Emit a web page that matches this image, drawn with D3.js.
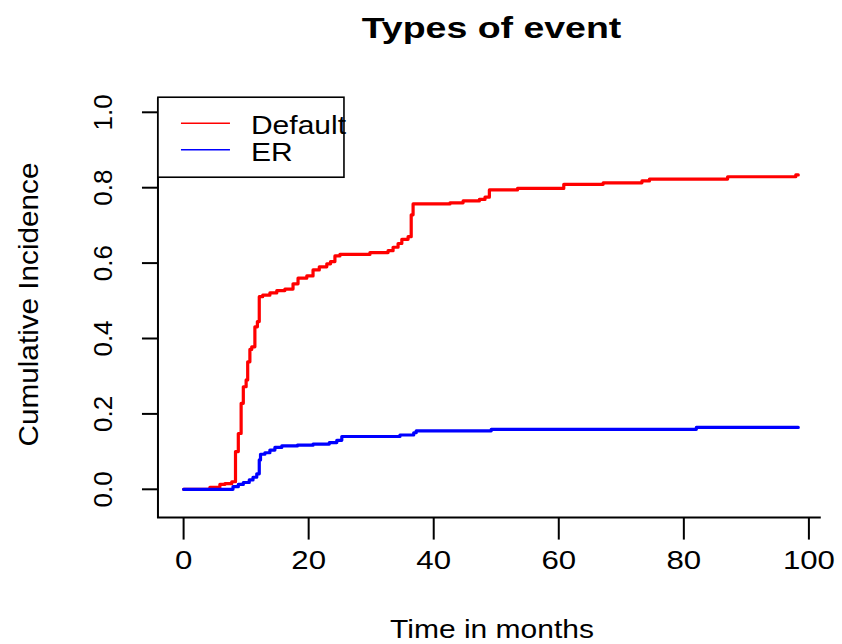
<!DOCTYPE html>
<html>
<head>
<meta charset="utf-8">
<script src="https://cdn.jsdelivr.net/npm/d3@7"></script>
<style>
  body { margin: 0; background: #fff; }
  svg text { font-family: "Liberation Sans", Arial, sans-serif; fill: #000; }
</style>
</head>
<body>
<svg id="chart" width="842" height="644"></svg>
<script>
// cumulative incidence (step points: time, value)
const defaultTimes = [0, 4.2, 5.8, 6.6, 7.7, 8.3, 8.75, 9.2, 9.55, 10.0, 10.25, 10.6, 10.9, 11.4, 11.8, 12.1,
  12.65, 13.8, 14.9, 16.2, 17.5, 18.3, 19.7, 20.7, 21.7, 22.9, 23.5, 24.2, 25.0, 29.8, 32.7, 33.5, 34.3,
  34.9, 35.9, 36.4, 36.7, 42.6, 44.7, 47.3, 48.2, 48.9, 53.4, 60.8, 67.1, 73.3, 74.5, 87.0, 97.9, 98.3];
const defaultValues = [0, 0.005, 0.013, 0.015, 0.02, 0.10, 0.148, 0.228, 0.272, 0.29, 0.338, 0.371, 0.378, 0.431, 0.445, 0.511,
  0.515, 0.521, 0.527, 0.531, 0.545, 0.560, 0.566, 0.582, 0.590, 0.598, 0.604, 0.619, 0.623, 0.628, 0.633, 0.642, 0.652,
  0.663, 0.670, 0.728, 0.757, 0.760, 0.765, 0.769, 0.775, 0.794, 0.798, 0.809, 0.813, 0.818, 0.823, 0.829, 0.834, 0.834];

const erTimes = [0, 7.9, 8.75, 9.55, 10.5, 11.1, 11.7, 12.1, 12.3, 13.0, 13.8, 14.6, 15.7, 18.2, 20.7, 23.3,
  24.5, 25.3, 34.6, 36.8, 37.2, 49.2, 82.0, 98.3];
const erValues = [0, 0.007, 0.013, 0.018, 0.025, 0.032, 0.041, 0.078, 0.093, 0.097, 0.104, 0.111, 0.115, 0.117, 0.120, 0.124,
  0.130, 0.140, 0.144, 0.150, 0.155, 0.159, 0.164, 0.164];

const seriesNames = ["Default", "ER"];
const seriesColors = ["#ff0000", "#0000ff"];
const xTicks = [0, 20, 40, 60, 80, 100];
const yTicks = [0, 0.2, 0.4, 0.6, 0.8, 1.0];

const svg = d3.select("#chart");

// scales (plot region runs a bit past the data, like R's usr)
let x = d3.scaleLinear().domain([0, 100]).range([183.6, 808.9]);
let y = d3.scaleLinear().domain([0, 1]).range([489.3, 112.3]);
const usr = { x0: -4.1, x1: 101.9, y0: -0.075, y1: 1.04 };

// L shaped frame
svg.append("path")
  .attr("d", `M${x(usr.x0)},${y(usr.y1)} V${y(usr.y0)} H${x(usr.x1)}`)
  .attr("fill", "none")
  .attr("stroke", "#000")
  .attr("stroke-width", 2);

// x axis ticks + labels
const xAxis = svg.append("g").attr("transform", `translate(0,${y(usr.y0)})`);
xAxis.selectAll("line").data(xTicks).enter().append("line")
  .attr("x1", d => x(d)).attr("x2", d => x(d))
  .attr("y1", 0).attr("y2", 22)
  .attr("stroke", "#000").attr("stroke-width", 2);
xAxis.selectAll("text").data(xTicks).enter().append("text")
  .attr("transform", d => `translate(${x(d)},51) scale(1.2,1)`)
  .attr("text-anchor", "middle")
  .style("font-size", "26px")
  .text(d => d);

// y axis ticks + labels (rotated like R's default las=0)
const yAxis = svg.append("g").attr("transform", `translate(${x(usr.x0)},0)`);
yAxis.selectAll("line").data(yTicks).enter().append("line")
  .attr("x1", 0).attr("x2", -16)
  .attr("y1", d => y(d)).attr("y2", d => y(d))
  .attr("stroke", "#000").attr("stroke-width", 2);
svg.append("g").selectAll("text").data(yTicks).enter().append("text")
  .attr("transform", d => `translate(112,${y(d)}) rotate(-90)`)
  .attr("text-anchor", "middle")
  .style("font-size", "26px")
  .text(d => d.toFixed(1));

// titles
svg.append("text")
  .attr("transform", "translate(491.5,38) scale(1.25,1)")
  .attr("text-anchor", "middle")
  .style("font-size", "30px")
  .style("font-weight", "bold")
  .text("Types of event");

svg.append("text")
  .attr("transform", "translate(492,638) scale(1.2,1)")
  .attr("text-anchor", "middle")
  .style("font-size", "25px")
  .text("Time in months");

svg.append("text")
  .attr("transform", "translate(38,304.5) rotate(-90) scale(1.1,1)")
  .attr("text-anchor", "middle")
  .style("font-size", "27px")
  .text("Cumulative Incidence");

// step curves
const line = d3.line()
  .x(d => x(d[0]))
  .y(d => y(d[1]))
  .curve(d3.curveStepAfter);

const series = [
  d3.zip(defaultTimes, defaultValues),
  d3.zip(erTimes, erValues)
];

svg.append("g").selectAll("path").data(series).enter().append("path")
  .attr("d", line)
  .attr("fill", "none")
  .attr("stroke", (d, i) => seriesColors[i])
  .attr("stroke-width", 3.2)
  .attr("stroke-linejoin", "round")
  .attr("stroke-linecap", "round");

// legend, top left corner of the plot region
const legend = svg.append("g").attr("transform", `translate(${x(usr.x0)},${y(usr.y1)})`);
legend.append("rect")
  .attr("x", 0).attr("y", 0)
  .attr("width", 186).attr("height", 80)
  .attr("fill", "#fff")
  .attr("stroke", "#000")
  .attr("stroke-width", 1.6);

const rows = legend.selectAll("g.row").data(seriesNames).enter().append("g")
  .attr("class", "row")
  .attr("transform", (d, i) => `translate(0,${26 + i * 26.5})`);
rows.append("line")
  .attr("x1", 23).attr("x2", 72)
  .attr("y1", 0).attr("y2", 0)
  .attr("stroke", (d, i) => seriesColors[i])
  .attr("stroke-width", 1.6);
rows.append("text")
  .attr("transform", "translate(93,11) scale(1.2,1)")
  .style("font-size", "25px")
  .text(d => d);
</script>
</body>
</html>
